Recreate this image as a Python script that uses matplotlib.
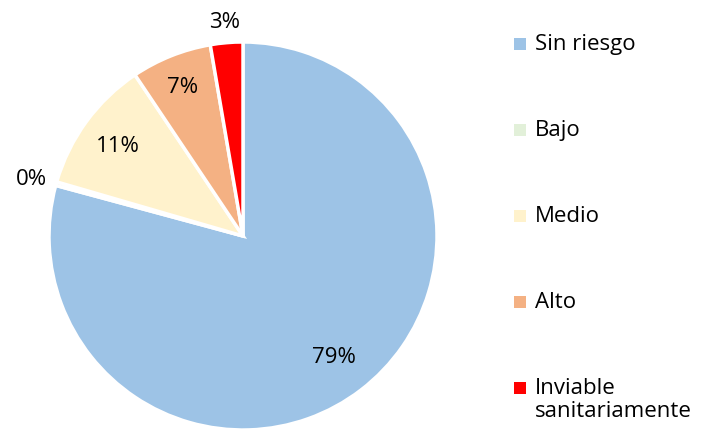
import numpy as np
import matplotlib.pyplot as plt
from matplotlib.patches import Rectangle

categories = ['Sin riesgo', 'Bajo', 'Medio', 'Alto', 'Inviable\nsanitariamente']
shares = [79.2, 0.3, 11.1, 6.7, 2.7]
colors = ['#9DC3E6', '#E2F0D9', '#FFF2CC', '#F4B183', '#FF0000']

plt.rcParams['font.family'] = ['Open Sans', 'DejaVu Sans']

fig = plt.figure(figsize=(7.21, 4.40), dpi=100)
ax = fig.add_axes([49 / 721, 10 / 440, 388 / 721, 388 / 440])

wedges, _ = ax.pie(shares, colors=colors, startangle=90, counterclock=False,
                   wedgeprops=dict(edgecolor='white', linewidth=2.5))
ax.set_xlim(-1, 1)
ax.set_ylim(-1, 1)
ax.set_aspect('equal')

# percentage labels: inside for big slices, outside for the small ones
label_r = [0.77, 1.13, 0.80, 0.84, 1.12]
for w, s, r in zip(wedges, shares, label_r):
    ang = np.deg2rad((w.theta1 + w.theta2) / 2)
    ax.text(r * np.cos(ang), r * np.sin(ang), f'{round(s)}%',
            ha='center', va='center_baseline', fontsize=16)

# legend drawn by hand so the two-line entry keeps its box on the first line
W, H = 721, 440
for i, (cat, c) in enumerate(zip(categories, colors)):
    y = 44 + 86 * i
    fig.patches.append(Rectangle((514 / W, 1 - (y + 6) / H), 12 / W, 12 / H,
                                 transform=fig.transFigure, facecolor=c, edgecolor='none'))
    fig.text(535 / W, 1 - (y - 10) / H, cat, ha='left', va='top', fontsize=16,
             linespacing=1.1)

fig.savefig('out.png', dpi=100)
